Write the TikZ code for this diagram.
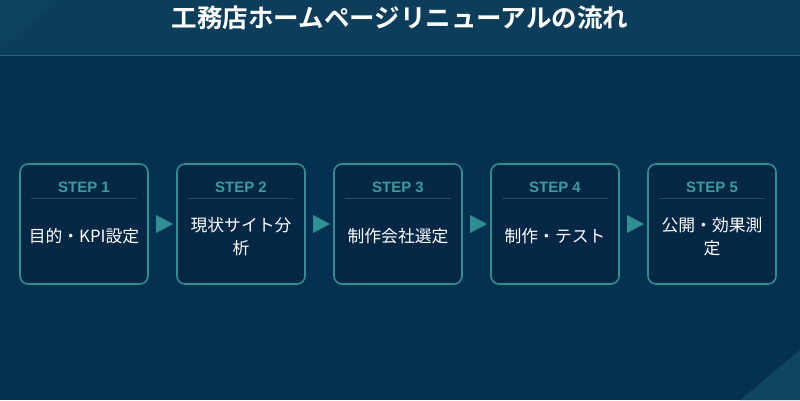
\documentclass[tikz,border=0pt]{standalone}
\usepackage{fontspec}
\setmainfont{Noto Sans CJK JP}
\newfontfamily\titlefont{Noto Sans CJK JP Bold}
\newfontfamily\labelfont{Liberation Sans Bold}
\usetikzlibrary{shapes.geometric,calc}
\definecolor{hdr}{HTML}{0C3D5A}
\definecolor{hdrline}{HTML}{1F6B78}
\definecolor{bgmain}{HTML}{06304F}
\definecolor{boxfill}{HTML}{052746}
\definecolor{boxline}{HTML}{2F8E91}
\definecolor{steptxt}{HTML}{3A9C9C}
\definecolor{rulec}{HTML}{1E4D66}
\definecolor{deco}{HTML}{0E4662}
\tikzset{
  stepbox/.style={draw=boxline, line width=1.6pt, fill=boxfill, rounded corners=8pt,
    minimum width=128pt, minimum height=120pt, inner sep=0pt},
  steplabel/.style={text=steptxt, font=\labelfont\fontsize{15}{17}\selectfont},
  steptext/.style={text=white, align=center, font=\fontsize{16.8}{22.5}\selectfont},
  tri/.style={isosceles triangle, isosceles triangle apex angle=56, isosceles triangle stretches,
    fill=boxline, inner sep=0pt, minimum height=17pt, minimum width=18pt, draw=none}
}
\begin{document}
\begin{tikzpicture}[x=1pt,y=-1pt]
\useasboundingbox (0,0) rectangle (800,400);
% backgrounds
\fill[bgmain] (0,0) rectangle (800,400);
\fill[hdr] (0,0) rectangle (800,55);
\fill[deco, opacity=0.6] (0,0) -- (60,0) -- (0,50) -- cycle;
\fill[deco] (800,350) -- (800,400) -- (740,400) -- cycle;
\draw[hdrline, line width=1.5pt] (0,55.5) -- (800,55.5);
% title
\node[text=white, font=\titlefont\fontsize{25.5}{28}\selectfont] (title) at (400,18) {工務店ホームページリニューアルの流れ};
% boxes
\foreach \i/\x/\lab in {1/84/{目的・KPI設定}, 2/241/{現状サイト分\\析}, 3/398/{制作会社選定}, 4/555/{制作・テスト}, 5/712/{公開・効果測\\定}} {
  \node[stepbox] (b\i) at (\x,224) {};
  \node[steplabel] (s\i) at (\x,187) {STEP \i};
  \draw[rulec, line width=1.2pt] ($(b\i.north west)+(12,35)$) -- ($(b\i.north east)+(-12,35)$);
  \node[steptext] (t\i) at (\x,236.5) {\lab};
}
% arrows
\foreach \a/\b in {1/2,2/3,3/4,4/5} {
  \node[tri] (ar\a) at ($(b\a.east)!0.5!(b\b.west)+(-1,0)$) {};
}
\end{tikzpicture}
\end{document}
